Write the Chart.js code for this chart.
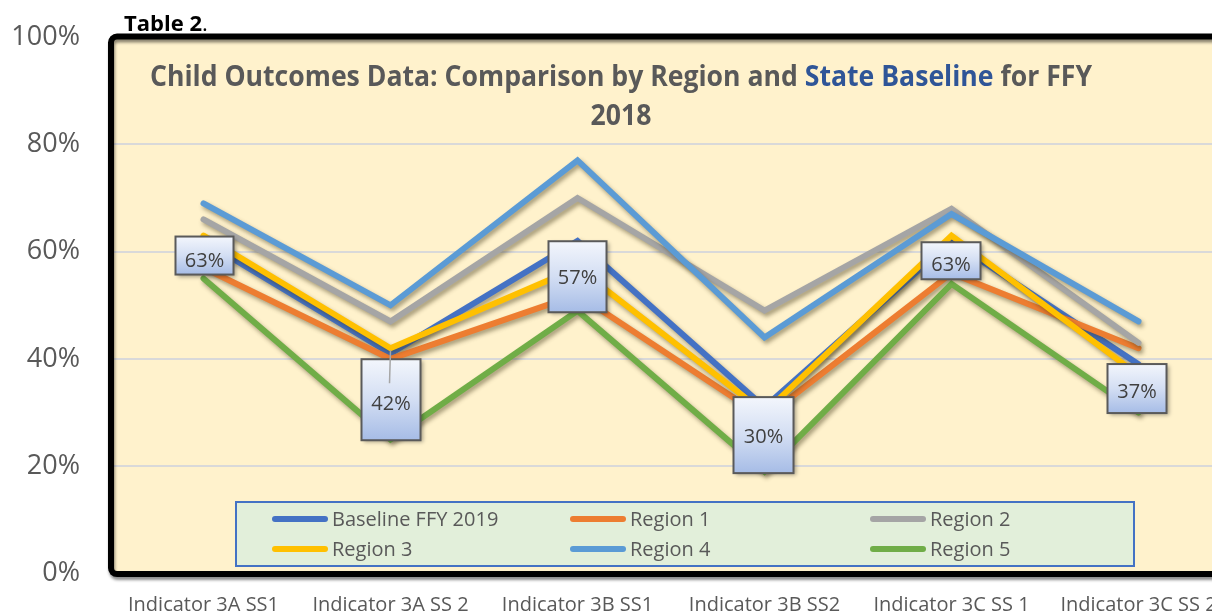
<!DOCTYPE html>
<html>
<head>
<meta charset="utf-8">
<script src="https://cdn.jsdelivr.net/npm/chart.js@4.4.1/dist/chart.umd.min.js"></script>
<style>
  html, body { margin: 0; padding: 0; background: #ffffff; overflow: hidden; }
  #wrap { position: relative; width: 1250px; height: 615px; }
</style>
</head>
<body>
<div id="wrap"><canvas id="c"></canvas></div>
<script>
// ---- Data ----
const categories = ['Indicator 3A SS1', 'Indicator 3A SS 2', 'Indicator 3B SS1', 'Indicator 3B SS2', 'Indicator 3C SS 1', 'Indicator 3C SS 2'];
const seriesNames = ['Baseline FFY 2019', 'Region 1', 'Region 2', 'Region 3', 'Region 4', 'Region 5'];
const baseline = [62, 41, 62, 31, 62, 39];
const region1  = [57, 40, 52, 29, 56, 42];
const region2  = [66, 47, 70, 49, 68, 43];
const region3  = [63, 42, 57, 30, 63, 37];
const region4  = [69, 50, 77, 44, 67, 47];
const region5  = [55, 25, 49, 19, 54, 30];
const yTickValues = [0, 20, 40, 60, 80, 100];
const captionBold = 'Table 2';
const captionRest = '.';
const titleLine1 = [['Child Outcomes Data: Comparison by Region and ', 'grey'], ['State Baseline', 'blue'], [' for FFY', 'grey']];
const titleLine2 = '2018';
const labelledSeries = 3; // Region 3 values are shown as data labels

// ---- Styles ----
const seriesColors = ['#4472C4', '#ED7D31', '#A5A5A5', '#FFC000', '#5B9BD5', '#70AD47'];
const FONT = '"Open Sans", "Noto Sans", sans-serif';
// label box geometry relative to its point: [left, top, right, bottom, textDy]
const labelBoxes = [
  [-28, 1, 30, 39, 25],
  [-29, 11, 30, 92, 55],
  [-29, -26.5, 29, 44.5, 9.5],
  [-31, -15.5, 29, 60.5, 23.5],
  [-30, 6.7, 29, 43.7, 28.7],
  [-31, -11, 28, 38, 16]
];
const leaderLines = [null, [0, 2, -1, 35], null, null, null, null];

const allSeries = [baseline, region1, region2, region3, region4, region5];

const datasets = allSeries.map((vals, i) => ({
  label: seriesNames[i],
  data: vals,
  borderColor: seriesColors[i],
  backgroundColor: seriesColors[i],
  borderWidth: 6,
  pointRadius: 0,
  pointHoverRadius: 0,
  tension: 0,
  fill: false,
  borderCapStyle: 'round',
  borderJoinStyle: 'miter',
  order: allSeries.length - i
}));

const decor = {
  id: 'decor',
  beforeDraw(chart) {
    const { ctx, chartArea: a } = chart;
    ctx.save();
    ctx.fillStyle = '#ffffff';
    ctx.fillRect(0, 0, chart.width, chart.height);
    ctx.fillStyle = '#FFF2CC';
    ctx.fillRect(a.left, a.top, chart.width - a.left + 20, a.bottom - a.top);
    ctx.restore();
  },
  beforeDatasetDraw(chart) {
    const ctx = chart.ctx;
    ctx.save();
    ctx.shadowColor = 'rgba(60,50,20,0.45)';
    ctx.shadowBlur = 4;
    ctx.shadowOffsetX = 2;
    ctx.shadowOffsetY = 3;
  },
  afterDatasetDraw(chart) {
    chart.ctx.restore();
  },
  afterDatasetsDraw(chart) {
    const ctx = chart.ctx;
    // ---- Legend ----
    const lx = 236, ly = 502, lw = 898, lh = 64;
    ctx.save();
    ctx.fillStyle = '#E2EFDA';
    ctx.fillRect(lx, ly, lw, lh);
    ctx.strokeStyle = '#4472C4';
    ctx.lineWidth = 2;
    ctx.strokeRect(lx, ly, lw, lh);
    const colX = [272, 570, 870];
    const rowY = [519, 549];
    ctx.font = '20px ' + FONT;
    ctx.textBaseline = 'middle';
    ctx.textAlign = 'left';
    chart.data.datasets.forEach((ds, i) => {
      const cx = colX[i % 3], cy = rowY[Math.floor(i / 3)];
      ctx.strokeStyle = ds.borderColor;
      ctx.lineWidth = 6;
      ctx.lineCap = 'round';
      ctx.beginPath();
      ctx.moveTo(cx + 3, cy);
      ctx.lineTo(cx + 53, cy);
      ctx.stroke();
      ctx.fillStyle = '#595959';
      ctx.fillText(ds.label, cx + 60, cy + 1);
    });
    ctx.restore();

    // ---- Data labels (Region 3) ----
    const meta = chart.getDatasetMeta(labelledSeries);
    const vals = chart.data.datasets[labelledSeries].data;
    meta.data.forEach((pt, i) => {
      const b = labelBoxes[i];
      const x0 = pt.x + b[0], y0 = pt.y + b[1], x1 = pt.x + b[2], y1 = pt.y + b[3];
      ctx.save();
      const g = ctx.createLinearGradient(0, y0, 0, y1);
      g.addColorStop(0, '#F3F6FC');
      g.addColorStop(0.5, '#D3DEF3');
      g.addColorStop(1, '#A6BCE6');
      ctx.shadowColor = 'rgba(0,0,0,0.35)';
      ctx.shadowBlur = 4;
      ctx.shadowOffsetX = 2;
      ctx.shadowOffsetY = 2;
      ctx.fillStyle = g;
      ctx.fillRect(x0, y0, x1 - x0, y1 - y0);
      ctx.shadowColor = 'transparent';
      ctx.strokeStyle = '#5A5A5A';
      ctx.lineWidth = 2;
      ctx.strokeRect(x0, y0, x1 - x0, y1 - y0);
      const ld = leaderLines[i];
      if (ld) {
        ctx.strokeStyle = '#A6A6A6';
        ctx.lineWidth = 1.5;
        ctx.beginPath();
        ctx.moveTo(pt.x + ld[0], pt.y + ld[1]);
        ctx.lineTo(pt.x + ld[2], pt.y + ld[3]);
        ctx.stroke();
      }
      ctx.fillStyle = '#404040';
      ctx.font = '20px ' + FONT;
      ctx.textAlign = 'center';
      ctx.textBaseline = 'middle';
      ctx.fillText(Math.round(vals[i]) + '%', (x0 + x1) / 2, pt.y + b[4] + 1);
      ctx.restore();
    });
  },
  afterDraw(chart) {
    const { ctx, chartArea: a } = chart;
    ctx.save();
    // ---- Frame ----
    ctx.shadowColor = 'rgba(0,0,0,0.45)';
    ctx.shadowBlur = 3;
    ctx.shadowOffsetX = 1;
    ctx.shadowOffsetY = 3;
    ctx.strokeStyle = '#000000';
    ctx.lineWidth = 6;
    ctx.beginPath();
    ctx.roundRect(a.left + 1, a.top - 0.5, chart.width - a.left + 40, a.bottom - a.top + 1, 6);
    ctx.stroke();
    ctx.restore();

    // ---- Caption ----
    ctx.save();
    ctx.fillStyle = '#000000';
    ctx.textBaseline = 'alphabetic';
    ctx.textAlign = 'left';
    ctx.font = 'bold 22px ' + FONT;
    ctx.fillText(captionBold, 124, 31);
    const cw = ctx.measureText(captionBold).width;
    ctx.font = '22px ' + FONT;
    ctx.fillText(captionRest, 124 + cw, 31);
    ctx.restore();

    // ---- Title ----
    ctx.save();
    ctx.font = 'bold 28px ' + FONT;
    ctx.textBaseline = 'middle';
    ctx.textAlign = 'left';
    const widths = titleLine1.map(p => ctx.measureText(p[0]).width);
    const total = widths.reduce((s, w) => s + w, 0);
    const sx = 942 / total;
    ctx.translate(621, 78);
    ctx.scale(sx, 1);
    let x = -total / 2;
    titleLine1.forEach((p, i) => {
      ctx.fillStyle = p[1] === 'blue' ? '#2F5597' : '#595959';
      ctx.fillText(p[0], x, 0);
      x += widths[i];
    });
    ctx.restore();
    ctx.save();
    ctx.font = 'bold 28px ' + FONT;
    ctx.textBaseline = 'middle';
    ctx.textAlign = 'center';
    ctx.fillStyle = '#595959';
    ctx.translate(621, 117);
    ctx.scale(sx, 1);
    ctx.fillText(titleLine2, 0, 0);
    ctx.restore();
  }
};

new Chart(document.getElementById('c'), {
  type: 'line',
  data: { labels: categories, datasets },
  options: {
    responsive: true,
    maintainAspectRatio: false,
    animation: false,
    events: [],
    layout: { padding: { left: 0, right: 18, top: 37, bottom: 0 } },
    plugins: {
      legend: { display: false },
      title: { display: false },
      tooltip: { enabled: false }
    },
    scales: {
      x: {
        type: 'category',
        offset: true,
        grid: { display: false, drawTicks: false },
        border: { display: false },
        ticks: {
          color: '#595959',
          font: { family: FONT, size: 20 },
          padding: 20,
          maxRotation: 0,
          autoSkip: false
        },
        afterFit(scale) {
          scale.height = 41.4;
          scale.paddingLeft = 0; scale.paddingRight = 0;
        }
      },
      y: {
        min: 0,
        max: 100,
        afterBuildTicks(scale) { scale.ticks = yTickValues.map(v => ({ value: v })); },
        grid: { color: '#D9D9D9', lineWidth: 2, drawTicks: false },
        border: { display: false },
        ticks: {
          color: '#595959',
          font: { family: FONT, size: 27 },
          padding: 30,
          callback: v => v + '%'
        },
        afterFit(scale) {
          scale.width = 110;
          scale.paddingTop = 0; scale.paddingBottom = 0;
        }
      }
    }
  },
  plugins: [decor]
});
</script>
</body>
</html>
